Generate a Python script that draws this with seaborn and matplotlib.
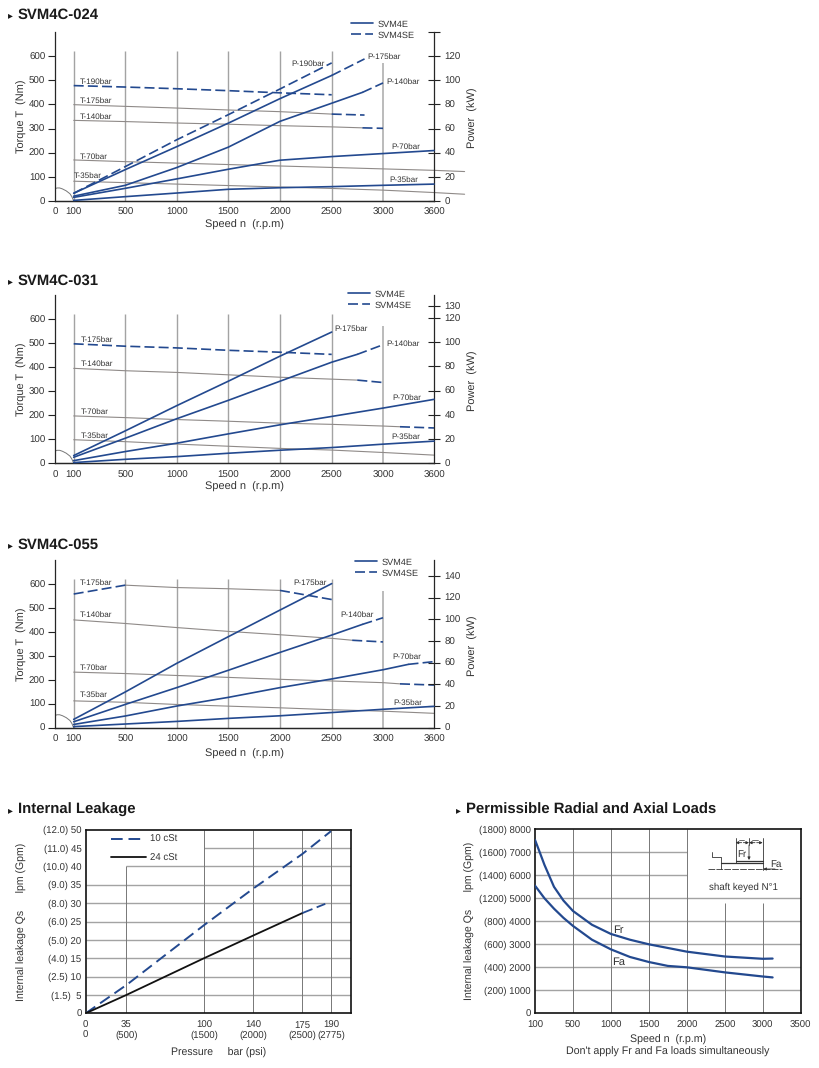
import numpy as np
import matplotlib
matplotlib.use('Agg')
import matplotlib.pyplot as plt
from matplotlib.lines import Line2D
import seaborn as sns

#speed ticks are evenly spaced on the chart, apart from the short 0-100 step
SPEED_TICKS = [0, 100, 500, 1000, 1500, 2000, 2500, 3000, 3600]
SPEED_LABELS = ['0', '100', '500', '1000', '1500', '2000', '2500', '3000', '3600']

#SVM4C-024
RPM_A = [100, 500, 1000, 1500, 2000, 2500]
RPM_B = [100, 500, 1000, 1500, 2000, 2500, 2820]
RPM_C = [100, 500, 1000, 1500, 2000, 2500, 2800, 3000]
RPM_D = [100, 500, 1000, 1500, 2000, 2500, 3000, 3600]
RPM_LONG = [100, 500, 1000, 1500, 2000, 2500, 3000, 3600, 3960]
P024_190 = [6.4, 28.5, 50.7, 71.5, 92.8, 114.4]
P024_175 = [6.4, 26, 45, 64.5, 84.8, 104, 117.7]
P024_140 = [4, 13, 27.7, 44.6, 66, 81, 90, 97.8]
P024_70 = [3, 10.5, 18.3, 26.3, 33.8, 36.8, 39.3, 41.8]
P024_35 = [0.5, 3.6, 6.6, 9.7, 11, 11.9, 13, 14]
T024_190 = [478, 472, 465, 457, 448, 440]
T024_175 = [399, 392, 385, 377, 370, 360, 356]
T024_140 = [334, 329, 323, 318, 312, 307, 303, 301]
T024_70 = [170, 163, 157, 151, 145, 139, 133, 127, 122]
T024_35 = [82, 76, 70, 64, 58, 52, 45, 35, 28]

#SVM4C-031
RPM_E = [100, 500, 1000, 1500, 2000, 2500, 2750, 3000]
RPM_F = [100, 500, 1000, 1500, 2000, 2500, 3000, 3200, 3600]
P031_175 = [6.4, 26.8, 47.6, 67.8, 88.5, 108.4]
P031_140 = [5, 20.7, 36.8, 52, 67.8, 83.5, 90, 97.9]
P031_70 = [2.2, 9.7, 16.6, 24.3, 31.8, 38.7, 45.6, 52.8]
P031_35 = [0.6, 3.3, 5.5, 8.3, 10.8, 13, 15.8, 18.3]
T031_175 = [497, 487, 480, 470, 462, 453]
T031_140 = [395, 385, 378, 368, 358, 350, 346, 336]
T031_70 = [197, 190, 182, 175, 167, 162, 155, 152, 147]
T031_35 = [98, 90, 80, 71, 62, 55, 45, 34]

#SVM4C-055
RPM_G = [100, 500, 1000, 1500, 2000, 2500, 2700, 3000]
RPM_H = [100, 500, 1000, 1500, 2000, 2500, 3000, 3300, 3600]
P055_175 = [7.7, 33, 59.4, 84, 108.6, 133]
P055_140 = [5.5, 21.5, 37, 53, 69.5, 85.5, 95.4, 101.5]
P055_70 = [3, 10.8, 20, 28, 37, 45, 53.5, 58.5, 61]
P055_35 = [1, 3.4, 5.8, 8.6, 11, 14, 17, 19.7]
T055_175 = [558, 595, 585, 580, 573, 535]
T055_140 = [450, 435, 418, 402, 388, 373, 365, 358]
T055_70 = [232, 226, 218, 210, 202, 195, 188, 183, 178]
T055_35 = [112, 106, 97, 90, 83, 75, 69, 60]

#internal leakage
BAR_TICKS = [0, 35, 100, 140, 175, 190]
BAR_LABELS = ['0\n0', '35\n(500)', '100\n(1500)', '140\n(2000)', '175\n(2500)', '190\n(2775)']
LPM_TICKS = [0, 5, 10, 15, 20, 25, 30, 35, 40, 45, 50]
LPM_LABELS = ['0', '(1.5)  5', '(2.5) 10', '(4.0) 15', '(5.0) 20', '(6.0) 25', '(8.0) 30',
              '(9.0) 35', '(10.0) 40', '(11.0) 45', '(12.0) 50']
BAR_10 = [0, 35, 100, 140, 175, 190]
LEAK_10 = [0, 7.7, 24, 34, 43.4, 49.6]
BAR_24 = [0, 35, 100, 140, 175, 187]
LEAK_24 = [0, 5, 15, 21.2, 27.3, 29.8]

#radial and axial loads
LOAD_TICKS = [100, 500, 1000, 1500, 2000, 2500, 3000, 3500]
LOAD_Y = [0, 1000, 2000, 3000, 4000, 5000, 6000, 7000, 8000]
LOAD_LABELS = ['0', '(200) 1000', '(400) 2000', '(600) 3000', '(800) 4000', '(1200) 5000',
               '(1400) 6000', '(1600) 7000', '(1800) 8000']
RPM_FR = [100, 150, 200, 300, 400, 500, 750, 1000, 1250, 1500, 2000, 2500, 3000, 3130]
LOAD_FR = [7540, 7000, 6450, 5500, 4900, 4450, 3850, 3450, 3200, 3000, 2680, 2470, 2370, 2380]
RPM_FA = [100, 200, 300, 400, 500, 750, 1000, 1250, 1500, 1750, 2000, 2500, 3000, 3130]
LOAD_FA = [5550, 5000, 4550, 4150, 3800, 3200, 2780, 2450, 2230, 2060, 2000, 1780, 1600, 1560]

#small arc next to the origin of the speed charts
ARC_X = [0, 10, 25, 40, 60, 80, 90, 100]
ARC_Y = [50, 54, 54, 50, 42, 30, 18, 0]

BLUE = '#23498f'
GREY = '#8f8a88'
GRID = '#a3a3a3'
TXT = '#333333'
DASH = (0, (6, 2.5))
W, H = 819, 1068

sns.set_theme(style='white')
plt.rcParams['font.family'] = ['Liberation Sans', 'DejaVu Sans']
plt.rcParams['axes.linewidth'] = 0.9
plt.rcParams['text.hinting'] = 'none'

fig = plt.figure(figsize=(W / 100, H / 100), dpi=100, facecolor='white')


def px_axes(left, top, right, bottom):
    return fig.add_axes([left / W, 1 - bottom / H, (right - left) / W, (bottom - top) / H])


def warp(knots, pos):
    #piecewise linear scale, the last step carries on past the axis
    k = np.array(knots, dtype=float)
    pos = np.array(pos, dtype=float)
    slope = (k[-1] - k[-2]) / (pos[-1] - pos[-2])

    def forward(v):
        v = np.asarray(v, dtype=float)
        return np.where(v > k[-1], pos[-1] + (v - k[-1]) / slope, np.interp(v, k, pos))

    def inverse(p):
        p = np.asarray(p, dtype=float)
        return np.where(p > pos[-1], k[-1] + (p - pos[-1]) * slope, np.interp(p, pos, k))
    return forward, inverse


def line(ax, x, y, color=BLUE, lw=1.2, ls='-', clip=False):
    sns.lineplot(x=x, y=y, ax=ax, color=color, linewidth=lw, linestyle=ls,
                 estimator=None, sort=False, legend=False, clip_on=clip, zorder=4)


def series(ax, x, y, solid=None, color=BLUE, lw=1.2):
    #solid is the (from, to) speed range drawn solid, the rest goes dashed and blue
    x = np.array(x, dtype=float)
    y = np.array(y, dtype=float)
    if solid is None:
        line(ax, x, y, BLUE, 1.2, DASH)
        return
    lo, hi = solid
    keep = (x >= lo) & (x <= hi)
    line(ax, x[keep], y[keep], color, lw)
    if x[0] < lo:
        m = x <= lo
        line(ax, x[m], y[m], BLUE, 1.2, DASH)
    if x[-1] > hi:
        m = x >= hi
        line(ax, x[m], y[m], BLUE, 1.2, DASH)


def heading(x, y, s):
    fig.text((x + 10) / W, 1 - y / H, s, fontsize=10.7, fontweight='bold', color='#1a1a1a', va='center')
    fig.text(x / W, 1 - y / H, '▸', fontsize=7, color='#1a1a1a', va='center', family=['DejaVu Sans'])


def speed_panel(top, bottom, title, title_y, ptop, pticks, pblank, torque, power, notes, legend_x, legend_y, label_gap=24):
    ax = px_axes(55, top, 434, bottom)
    ax.set_xscale('function', functions=warp(SPEED_TICKS, [0, 18.7, 70.3, 121.7, 173.3, 225, 276.7, 328, 379]))
    ax.set_xlim(0, 3600)
    ax.set_ylim(0, 700)
    ax.patch.set_alpha(0)
    ax.set_xticks(SPEED_TICKS, SPEED_LABELS)
    ax.xaxis.set_minor_locator(matplotlib.ticker.NullLocator())
    ax.set_yticks([0, 100, 200, 300, 400, 500, 600])
    ax.tick_params(axis='x', length=0, pad=5, labelsize=7, labelcolor=TXT)
    ax.tick_params(axis='y', left=True, length=5, width=0.8, pad=2, labelsize=7, labelcolor=TXT, color='#222222')
    ax.spines['top'].set_visible(False)
    ax.spines['right'].set_visible(False)
    ax.vlines(RPM_A, 0, 620, color=GRID, lw=1.0, zorder=1)
    ax.vlines(3000, 0, 572, color='#b5b5b5', lw=1.3, zorder=1)
    sns.lineplot(x=ARC_X, y=ARC_Y, ax=ax, color='#777777', linewidth=0.7, estimator=None, sort=False, legend=False)
    ax.set_xlabel('Speed n  (r.p.m)', fontsize=7.9, color=TXT, va='center')
    ax.xaxis.set_label_coords(0.5, -label_gap / (bottom - top))
    ax.set_ylabel('Torque T  (Nm)', fontsize=7.9, color=TXT)
    ax.yaxis.set_label_coords((27 - 55) / 379, 0.5)

    for x, y, solid, color, lw in torque:
        series(ax, x, y, solid, color, lw)

    axp = ax.twinx()
    axp.set_ylim(0, ptop)
    axp.set_yticks(pticks, [('' if t in pblank else str(t)) for t in pticks])
    axp.tick_params(axis='y', right=True, direction='inout', length=9, width=0.8, pad=3, labelsize=7,
                    labelcolor=TXT, color='#222222')
    axp.spines['top'].set_visible(False)
    axp.spines['left'].set_visible(False)
    axp.set_ylabel('Power  (kW)', fontsize=7.9, color=TXT)
    axp.yaxis.set_label_coords((468 - 55) / 379, 0.49)
    for x, y, solid in power:
        series(axp, x, y, solid)

    for s, xp, yp in notes:
        fig.text(xp / W, 1 - yp / H, s, fontsize=5.9, color=TXT, va='center')

    handles = [Line2D([], [], color=BLUE, lw=1.2), Line2D([], [], color=BLUE, lw=1.2, ls=DASH)]
    axp.legend(handles, ['SVM4E', 'SVM4SE'], loc='upper left', frameon=False, fontsize=6.6, handlelength=2.35,
               handletextpad=0.5, labelspacing=0.3, borderaxespad=0, borderpad=0, labelcolor=TXT,
               bbox_to_anchor=(legend_x / W, 1 - legend_y / H), bbox_transform=fig.transFigure)
    heading(8, title_y, title)
    return ax


S = (0, 9999)

speed_panel(32, 201, 'SVM4C-024', 15, 140, [0, 20, 40, 60, 80, 100, 120, 140], [140],
            [(RPM_A, T024_190, None, None, None),
             (RPM_B, T024_175, (0, 2500), GREY, 0.8),
             (RPM_C, T024_140, (0, 2800), GREY, 0.8),
             (RPM_LONG, T024_70, S, GREY, 0.8),
             (RPM_LONG, T024_35, S, GREY, 0.8)],
            [(RPM_A, P024_190, None), (RPM_B, P024_175, (0, 2500)), (RPM_C, P024_140, (0, 2800)),
             (RPM_D, P024_70, S), (RPM_D, P024_35, S)],
            [('T-190bar', 80, 82), ('T-175bar', 80, 100.5), ('T-140bar', 80, 117), ('T-70bar', 80, 157),
             ('T-35bar', 74, 176), ('P-190bar', 291, 63.5), ('P-175bar', 367, 56.5), ('P-140bar', 386, 82),
             ('P-70bar', 391, 147), ('P-35bar', 389, 180)],
            351, 20)

speed_panel(295, 463.3, 'SVM4C-031', 281, 139, [0, 20, 40, 60, 80, 100, 120, 130], [],
            [(RPM_A, T031_175, None, None, None),
             (RPM_E, T031_140, (0, 2750), GREY, 0.8),
             (RPM_F, T031_70, (0, 3200), GREY, 0.8),
             (RPM_D, T031_35, S, GREY, 0.8)],
            [(RPM_A, P031_175, S), (RPM_E, P031_140, (0, 2750)), (RPM_D, P031_70, S), (RPM_D, P031_35, S)],
            [('T-175bar', 81, 340), ('T-140bar', 81, 364), ('T-70bar', 81, 412), ('T-35bar', 81, 436),
             ('P-175bar', 334, 329), ('P-140bar', 386, 344), ('P-70bar', 392, 398), ('P-35bar', 391, 437)],
            348, 290)

speed_panel(560, 727.7, 'SVM4C-055', 545, 154.8, [0, 20, 40, 60, 80, 100, 120, 140], [],
            [(RPM_A, T055_175, (500, 2000), GREY, 0.8),
             (RPM_G, T055_140, (0, 2700), GREY, 0.8),
             (RPM_F, T055_70, (0, 3200), GREY, 0.8),
             (RPM_D, T055_35, S, GREY, 0.8)],
            [(RPM_A, P055_175, S), (RPM_C, P055_140, (0, 2800)), (RPM_H, P055_70, (0, 3300)), (RPM_D, P055_35, S)],
            [('T-175bar', 80, 583), ('T-140bar', 80, 615), ('T-70bar', 80, 668), ('T-35bar', 80, 695),
             ('P-175bar', 293, 583), ('P-140bar', 340, 615), ('P-70bar', 392, 657), ('P-35bar', 393, 703)],
            355, 558, 26)

#internal leakage
ax = px_axes(85.7, 829.7, 351.3, 1013.3)
ax.set_xscale('function', functions=warp(BAR_TICKS + [215], [0, 40.7, 118.3, 167.7, 216.7, 245.3, 265.6]))
ax.set_xlim(0, 215)
ax.set_ylim(0, 50)
ax.set_xticks(BAR_TICKS, BAR_LABELS)
ax.xaxis.set_minor_locator(matplotlib.ticker.NullLocator())
ax.set_yticks(LPM_TICKS, LPM_LABELS)
ax.tick_params(axis='both', length=0, labelsize=6.9, labelcolor=TXT, pad=3)
ax.tick_params(axis='x', pad=5)
for s in ax.spines.values():
    s.set_linewidth(1.2)
    s.set_color('#111111')
ax.hlines(LPM_TICKS[1:8], 0, 215, color=GRID, lw=1.0, zorder=1)
ax.hlines(40, 35, 215, color=GRID, lw=1.0, zorder=1)
ax.hlines(45, 100, 215, color=GRID, lw=1.0, zorder=1)
ax.vlines(35, 0, 40, color='#777777', lw=0.7, zorder=1)
ax.vlines(BAR_TICKS[2:], 0, 50, color='#777777', lw=0.7, zorder=1)
line(ax, BAR_10, LEAK_10, BLUE, 1.4, (0, (6, 3)), True)
b = np.array(BAR_24)
l = np.array(LEAK_24)
line(ax, b[:5], l[:5], '#111111', 1.3, '-', True)
line(ax, b[4:], l[4:], BLUE, 1.3, (0, (6, 2.5)), True)
ax.set_xlabel('Pressure     bar (psi)', fontsize=7.6, color=TXT, labelpad=5)
ax.set_ylabel('Internal leakage Qs      lpm (Gpm)', fontsize=7.6, color=TXT)
ax.yaxis.set_label_coords((27 - 85.7) / 265.6, 0.5)
ax.legend([Line2D([], [], color=BLUE, lw=1.4, ls=(0, (6, 3))), Line2D([], [], color='#111111', lw=1.3)],
          ['10 cSt', '24 cSt'], loc='upper left', frameon=False, fontsize=6.9, handlelength=3.6, handletextpad=0.5,
          labelspacing=0.95, borderaxespad=0, borderpad=0, labelcolor=TXT,
          bbox_to_anchor=(111 / W, 1 - 835 / H), bbox_transform=fig.transFigure)
heading(8, 810, 'Internal Leakage')

#radial and axial loads
ax = px_axes(535, 829.3, 800.7, 1013.3)
ax.set_xscale('function', functions=warp(LOAD_TICKS, list(range(8))))
ax.set_xlim(100, 3500)
ax.set_ylim(0, 8000)
ax.set_xticks(LOAD_TICKS)
ax.set_xticklabels([str(t) for t in LOAD_TICKS])
ax.xaxis.set_minor_locator(matplotlib.ticker.NullLocator())
ax.set_yticks(LOAD_Y, LOAD_LABELS)
ax.tick_params(axis='both', length=0, labelsize=6.9, labelcolor=TXT, pad=3)
ax.tick_params(axis='x', pad=5)
for s in ax.spines.values():
    s.set_linewidth(1.2)
    s.set_color('#111111')
ax.hlines(LOAD_Y[1:6], 100, 3500, color=GRID, lw=1.0, zorder=1)
ax.hlines(LOAD_Y[6:8], 100, 2000, color=GRID, lw=1.0, zorder=1)
ax.vlines(LOAD_TICKS[1:5], 0, 8000, color='#777777', lw=0.7, zorder=1)
ax.vlines(LOAD_TICKS[5:7], 0, 4800, color='#777777', lw=0.7, zorder=1)
line(ax, RPM_FR, LOAD_FR, BLUE, 1.6, '-', True)
line(ax, RPM_FA, LOAD_FA, BLUE, 1.6, '-', True)
ax.text(1030, 3600, 'Fr', fontsize=8, color=TXT, va='center')
ax.text(1020, 2230, 'Fa', fontsize=8, color=TXT, va='center')
ax.set_xlabel("Speed n  (r.p.m)\nDon't apply Fr and Fa loads simultaneously", fontsize=7.7, color=TXT, labelpad=4)
ax.set_ylabel('Internal leakage Qs      lpm (Gpm)', fontsize=7.6, color=TXT)
ax.yaxis.set_label_coords((475 - 535) / 265.7, 0.5)
heading(456, 810, 'Permissible Radial and Axial Loads')


#shaft sketch in the corner of the load chart, pixel offsets from the crop corner at (695, 825)
def sk(xs, ys, lw=0.6, ls='-'):
    fig.add_artist(Line2D([(695 + v / 3) / W for v in xs], [1 - (825 + v / 3) / H for v in ys],
                          color='#333333', lw=lw, ls=ls, zorder=6))


def arrow(x0, y0, x1, y1):
    fig.add_artist(matplotlib.patches.FancyArrowPatch(
        ((695 + x0 / 3) / W, 1 - (825 + y0 / 3) / H), ((695 + x1 / 3) / W, 1 - (825 + y1 / 3) / H),
        transform=fig.transFigure, arrowstyle='-|>', mutation_scale=4, color='#333333', lw=0.6,
        shrinkA=0, shrinkB=0, zorder=6))


sk([52, 52, 78, 78], [82, 97, 97, 132])
sk([78, 203], [113, 113], 0.9)
sk([122, 203], [107, 107], 0.9)
sk([40, 260], [132, 132], 0.6, (0, (8, 1.5)))
sk([122, 122], [38, 113])
sk([203, 203], [38, 135])
sk([162, 162], [40, 60])
arrow(162, 60, 162, 105)
arrow(140, 53, 122, 53)
arrow(145, 53, 162, 53)
arrow(180, 53, 162, 53)
arrow(185, 53, 203, 53)
sk([132, 146], [44, 44], 0.5)
sk([172, 190], [44, 44], 0.5)
fig.text((695 + 128 / 3) / W, 1 - (825 + 87 / 3) / H, 'Fr', fontsize=7, color=TXT, va='center')
fig.text((695 + 227 / 3) / W, 1 - (825 + 117 / 3) / H, 'Fa', fontsize=7, color=TXT, va='center')
arrow(240, 132, 205, 132)
fig.text((695 + 145 / 3) / W, 1 - (825 + 187 / 3) / H, 'shaft keyed N°1', fontsize=7, color=TXT, ha='center', va='center')

fig.savefig('out.png', dpi=100)
